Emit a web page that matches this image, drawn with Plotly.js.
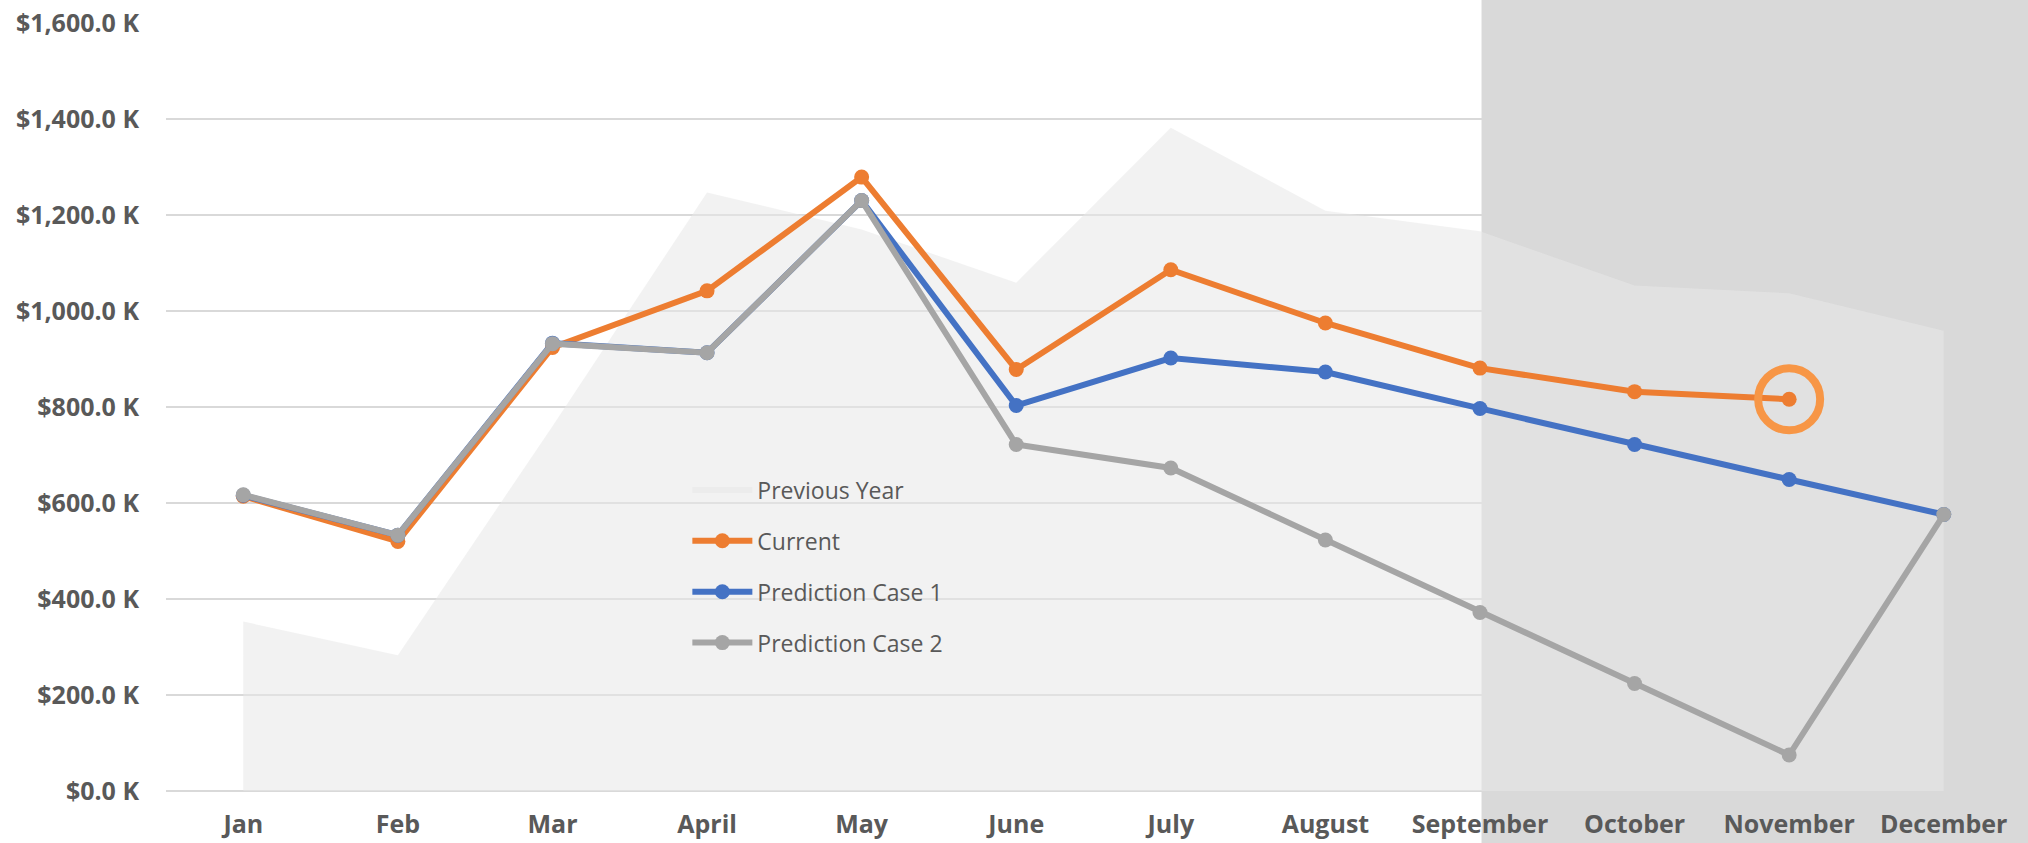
<!DOCTYPE html>
<html>
<head>
<meta charset="utf-8">
<script src="https://cdn.plot.ly/plotly-3.0.1.min.js"></script>
<style>
  html, body { margin: 0; padding: 0; background: #ffffff; }
  #chart { width: 2028px; height: 843px; }
</style>
</head>
<body>
<div id="chart"></div>
<script>
// ---- data (values in thousands of dollars) ----
const months = ["Jan", "Feb", "Mar", "April", "May", "June", "July", "August", "September", "October", "November", "December"];
const previousYear = [353, 283, 760, 1247, 1170, 1059, 1382, 1209, 1166, 1053, 1037, 959];
const current = [614, 520, 924, 1042, 1279, 878, 1086, 975, 881, 832, 816, null];
const predictionCase1 = [616, 533, 933, 913, 1230, 803, 902, 873, 797, 722, 649, 576];
const predictionCase2 = [617, 533, 932, 913, 1230, 722, 673, 523, 372, 224, 75, 576];
const seriesNames = ["Previous Year", "Current", "Prediction Case 1", "Prediction Case 2"];
const yTicks = [0, 200, 400, 600, 800, 1000, 1200, 1400, 1600];
const yTickLabels = ["$0.0 K", "$200.0 K", "$400.0 K", "$600.0 K", "$800.0 K", "$1,000.0 K", "$1,200.0 K", "$1,400.0 K", "$1,600.0 K"];
const forecastStartMonth = "September";
const highlightMonth = "November";

// ---- styles ----
const FONT = "Open Sans, Noto Sans, sans-serif";
const TEXT = "#595959";
const GRID = "#d9d9d9";
const ORANGE = "#ED7D31", BLUE = "#4472C4", GRAY = "#A5A5A5";

const xRange = [-0.5, 11.545];
const startIdx = months.indexOf(forecastStartMonth);
const shadeX0 = (startIdx + 0.01 - xRange[0]) / (xRange[1] - xRange[0]);
const hiIdx = months.indexOf(highlightMonth);

function lineTrace(name, values, color, group) {
  return {
    type: "scatter", mode: "lines+markers", x: months, y: values, name: name,
    legendgroup: group,
    line: { color: color, width: 6 },
    marker: { color: color, size: 15 },
    connectgaps: false, hoverinfo: "x+y+name"
  };
}

const traces = [
  {
    type: "scatter", mode: "none", x: months, y: previousYear, name: seriesNames[0],
    legendgroup: "g0",
    fill: "tozeroy", fillcolor: "rgba(231,231,231,0.55)", hoverinfo: "x+y+name"
  },
  lineTrace(seriesNames[1], current, ORANGE, "g1"),
  lineTrace(seriesNames[2], predictionCase1, BLUE, "g2"),
  lineTrace(seriesNames[3], predictionCase2, GRAY, "g3"),
  {
    type: "scatter", mode: "markers", x: [months[hiIdx]], y: [current[hiIdx]],
    showlegend: false, hoverinfo: "skip",
    marker: { symbol: "circle-open", size: 62, color: "rgb(247,150,70)", line: { width: 8, color: "rgb(247,150,70)" } }
  }
];

const layout = {
  width: 2028, height: 843,
  margin: { l: 166, r: 0, t: 23, b: 52, pad: 0 },
  paper_bgcolor: "#ffffff",
  plot_bgcolor: "rgba(0,0,0,0)",
  showlegend: true,
  font: { family: FONT, color: TEXT },
  xaxis: {
    type: "category", range: xRange, fixedrange: true,
    showgrid: false, zeroline: false,
    showline: false,
    ticks: "", tickfont: { family: FONT, size: 25, color: TEXT, weight: "bold" },
    ticklabelstandoff: 16
  },
  yaxis: {
    range: [0, 1600], fixedrange: true,
    tickmode: "array", tickvals: yTicks, ticktext: yTickLabels,
    showgrid: true, gridcolor: GRID, gridwidth: 1.5,
    zeroline: true, zerolinecolor: GRID, zerolinewidth: 2,
    showline: false, ticks: "",
    tickfont: { family: FONT, size: 25, color: TEXT, weight: "bold" },
    ticklabelstandoff: 26
  },
  legend: {
    x: 0.28, y: 0.42, xanchor: "left", yanchor: "top",
    bgcolor: "rgba(0,0,0,0)",
    font: { family: FONT, size: 23, color: TEXT },
    traceorder: "grouped", tracegroupgap: 18,
    itemwidth: 60
  },
  shapes: [
    {
      type: "rect", layer: "below",
      xref: "paper", yref: "paper",
      x0: shadeX0, x1: 1.01, y0: -0.1, y1: 1.05,
      fillcolor: "#d9d9d9", line: { width: 0 }
    }
  ]
};

Plotly.newPlot("chart", traces, layout, { displayModeBar: false, staticPlot: true });
</script>
</body>
</html>
